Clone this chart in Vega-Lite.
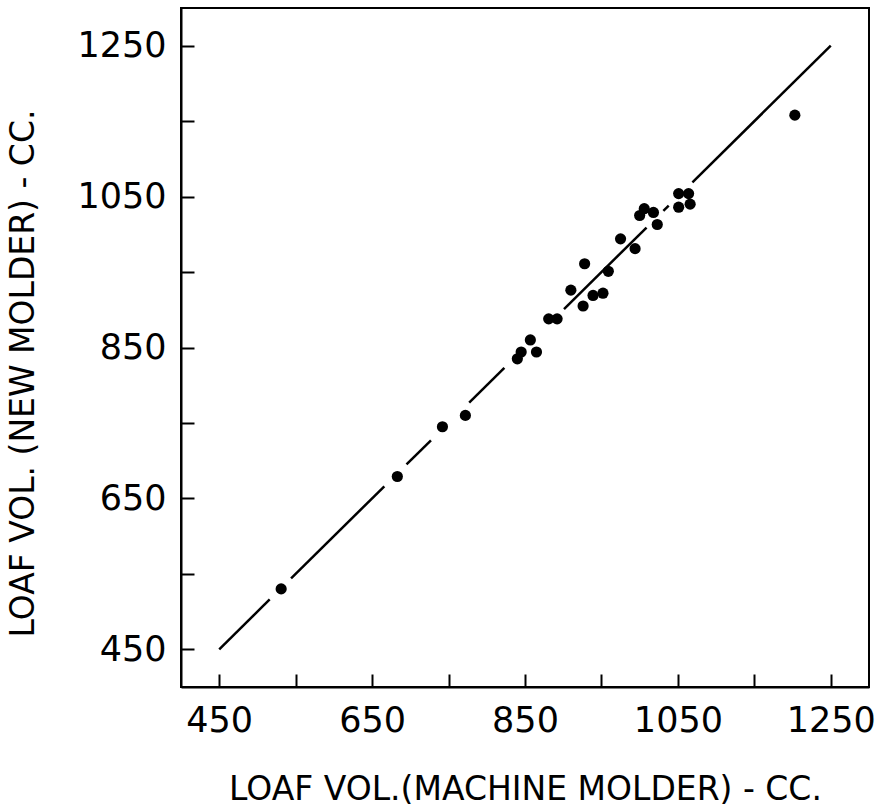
{
  "$schema": "https://vega.github.io/schema/vega-lite/v6.json",
  "width": 688,
  "height": 679,
  "autosize": "none",
  "padding": {"left": 181, "top": 8, "right": 14, "bottom": 125},
  "background": "white",
  "config": {"view": {"stroke": "black", "strokeWidth": 2}, "font": "DejaVu Sans"},
  "datasets": {
    "fit": [
      {"seg": 1, "x": 450, "y": 450}, {"seg": 1, "x": 516, "y": 516},
      {"seg": 2, "x": 544, "y": 544}, {"seg": 2, "x": 666, "y": 666},
      {"seg": 3, "x": 695, "y": 695}, {"seg": 3, "x": 727, "y": 727},
      {"seg": 4, "x": 777, "y": 777}, {"seg": 4, "x": 823, "y": 823},
      {"seg": 5, "x": 901, "y": 901}, {"seg": 5, "x": 1009, "y": 1009},
      {"seg": 6, "x": 1031, "y": 1031}, {"seg": 6, "x": 1038, "y": 1038},
      {"seg": 7, "x": 1069, "y": 1069}, {"seg": 7, "x": 1250, "y": 1250}
    ],
    "points": [
      {"x": 531, "y": 530}, {"x": 683, "y": 679}, {"x": 742, "y": 745}, {"x": 772, "y": 760},
      {"x": 840, "y": 835}, {"x": 845, "y": 844}, {"x": 857, "y": 860}, {"x": 865, "y": 844},
      {"x": 881, "y": 888}, {"x": 892, "y": 888}, {"x": 910, "y": 926}, {"x": 928, "y": 961},
      {"x": 926, "y": 905}, {"x": 939, "y": 919}, {"x": 952, "y": 922}, {"x": 959, "y": 951},
      {"x": 975, "y": 994}, {"x": 994, "y": 981}, {"x": 1023, "y": 1013}, {"x": 1000, "y": 1025},
      {"x": 1006, "y": 1034}, {"x": 1018, "y": 1029}, {"x": 1051, "y": 1054}, {"x": 1064, "y": 1054},
      {"x": 1051, "y": 1036}, {"x": 1066, "y": 1040}, {"x": 1203, "y": 1158}
    ]
  },
  "encoding": {
    "x": {
      "field": "x", "type": "quantitative",
      "scale": {"domain": [400, 1300], "nice": false, "zero": false},
      "axis": {
        "title": "LOAF VOL.(MACHINE MOLDER) - CC.",
        "values": [450, 550, 650, 750, 850, 950, 1050, 1150, 1250],
        "format": "d",
        "labelExpr": "datum.value % 200 == 50 ? datum.label : ''",
        "grid": false, "tickSize": -13, "tickWidth": 2, "tickColor": "black",
        "domainColor": "black", "domainWidth": 2,
        "labelFont": "DejaVu Sans", "labelFontSize": 35, "labelColor": "black",
        "labelPadding": 29, "labelFlush": false, "labelOverlap": false,
        "titleFont": "DejaVu Sans", "titleFontSize": 33, "titleFontWeight": "normal",
        "titleColor": "black", "titlePadding": 35
      }
    },
    "y": {
      "field": "y", "type": "quantitative",
      "scale": {"domain": [400, 1300], "nice": false, "zero": false},
      "axis": {
        "title": "LOAF VOL. (NEW MOLDER) - CC.",
        "values": [450, 550, 650, 750, 850, 950, 1050, 1150, 1250],
        "format": "d",
        "labelExpr": "datum.value % 200 == 50 ? datum.label : ''",
        "grid": false, "tickSize": -13, "tickWidth": 2, "tickColor": "black",
        "domainColor": "black", "domainWidth": 2,
        "labelFont": "DejaVu Sans", "labelFontSize": 35, "labelColor": "black",
        "labelPadding": 28, "labelFlush": false, "labelOverlap": false,
        "titleFont": "DejaVu Sans", "titleFontSize": 33, "titleFontWeight": "normal",
        "titleColor": "black", "titlePadding": 36, "titleY": 365
      }
    }
  },
  "layer": [
    {
      "data": {"name": "fit"},
      "mark": {"type": "line", "color": "black", "strokeWidth": 2.5},
      "encoding": {"detail": {"field": "seg", "type": "nominal"}}
    },
    {
      "data": {"name": "points"},
      "mark": {"type": "circle", "color": "black", "opacity": 1, "size": 125}
    }
  ]
}
